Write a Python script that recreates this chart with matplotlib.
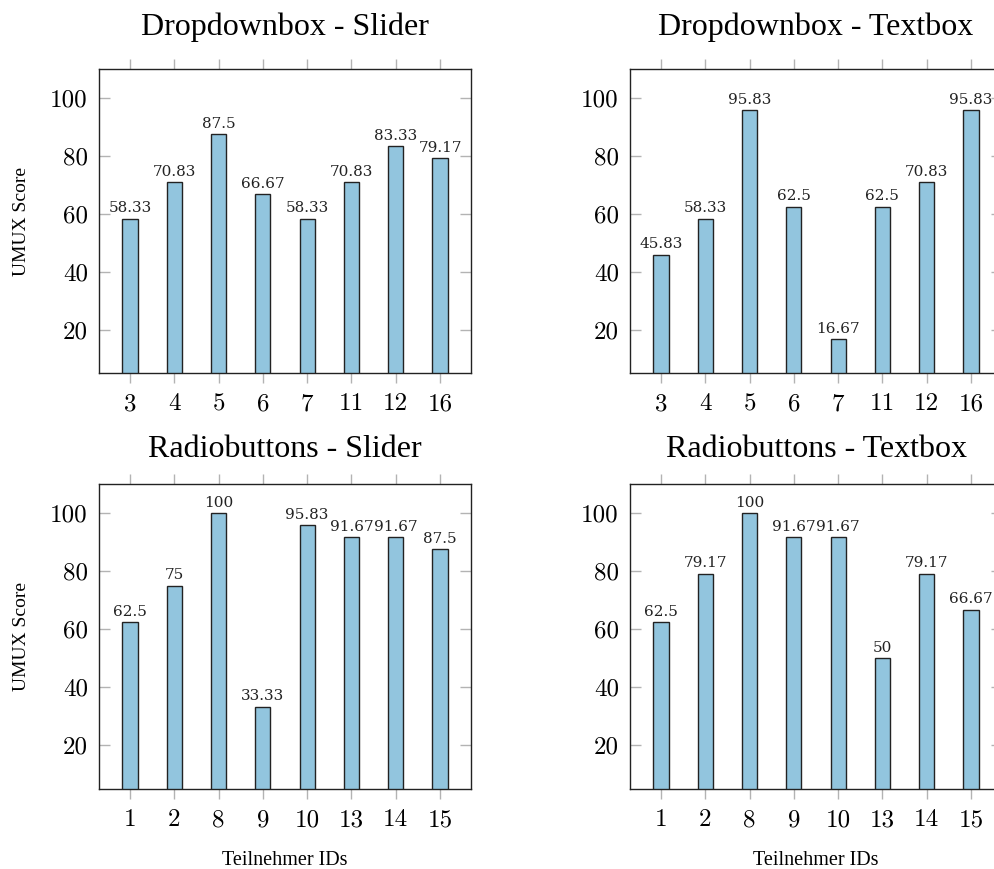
import matplotlib
matplotlib.use("Agg")
import matplotlib.pyplot as plt

# data
ds_ids = ["3", "4", "5", "6", "7", "11", "12", "16"]
ds_slider = [58.33, 70.83, 87.5, 66.67, 58.33, 70.83, 83.33, 79.17]
ds_textbox = [45.83, 58.33, 95.83, 62.5, 16.67, 62.5, 70.83, 95.83]

rb_ids = ["1", "2", "8", "9", "10", "13", "14", "15"]
rb_slider = [62.5, 75, 100, 33.33, 95.83, 91.67, 91.67, 87.5]
rb_textbox = [62.5, 79.17, 100, 91.67, 91.67, 50, 79.17, 66.67]

y_ticks = [20, 40, 60, 80, 100]

BAR_COLOR = "#92c5de"
TICK_COLOR = "#b3b3b3"
TITLE_FONT = "Liberation Serif"

W, H = 994, 869
fig = plt.figure(figsize=(W / 100, H / 100), dpi=100)


def px_axes(left, top, right, bottom):
    return fig.add_axes([left / W, 1 - bottom / H, (right - left) / W, (bottom - top) / H])


def draw(ax, ids, values, title, title_off, ylabel=False, xlabel=False):
    pos = list(range(len(ids)))
    ax.bar(pos, values, width=0.34, color=BAR_COLOR, edgecolor="#222222", linewidth=1.0, zorder=2)
    for x, v in zip(pos, values):
        ax.annotate(f"{v:g}", (x, v), xytext=(0, 2.5), textcoords="offset points",
                    ha="center", va="bottom", fontsize=11, family="DejaVu Serif", color="#222222")
    ax.set_xlim(-0.7, len(ids) - 0.3)
    ax.set_ylim(5, 110)
    ax.set_xticks(pos)
    ax.set_xticklabels(ids)
    ax.set_yticks(y_ticks)
    ax.tick_params(axis="x", direction="out", length=7.5, width=1, color=TICK_COLOR,
                   top=True, labeltop=False, pad=7, labelsize=18, labelfontfamily="cmr10")
    ax.tick_params(axis="y", direction="in", length=8, width=1, color=TICK_COLOR,
                   right=True, labelright=False, pad=8, labelsize=18, labelfontfamily="cmr10")
    for s in ax.spines.values():
        s.set_color("#222222")
        s.set_linewidth(1.0)
    ax.text(0.5, 1 + title_off, title, transform=ax.transAxes, ha="center", va="baseline",
            fontsize=23, family=TITLE_FONT)
    if ylabel:
        ax.set_ylabel("UMUX Score", fontsize=14, family=TITLE_FONT)
        ax.yaxis.set_label_coords(-0.185, 0.5)
    if xlabel:
        ax.set_xlabel("Teilnehmer IDs", fontsize=14.5, family=TITLE_FONT)
        ax.xaxis.set_label_coords(0.5, -0.203)


ax1 = px_axes(99, 69, 471, 373)
ax2 = px_axes(630, 69, 1002, 373)
ax3 = px_axes(99, 484, 471, 789)
ax4 = px_axes(630, 484, 1002, 789)

draw(ax1, ds_ids, ds_slider, "Dropdownbox - Slider", 0.112, ylabel=True)
draw(ax2, ds_ids, ds_textbox, "Dropdownbox - Textbox", 0.112)
draw(ax3, rb_ids, rb_slider, "Radiobuttons - Slider", 0.087, ylabel=True, xlabel=True)
draw(ax4, rb_ids, rb_textbox, "Radiobuttons - Textbox", 0.087, xlabel=True)

fig.savefig("out.png", dpi=100)
